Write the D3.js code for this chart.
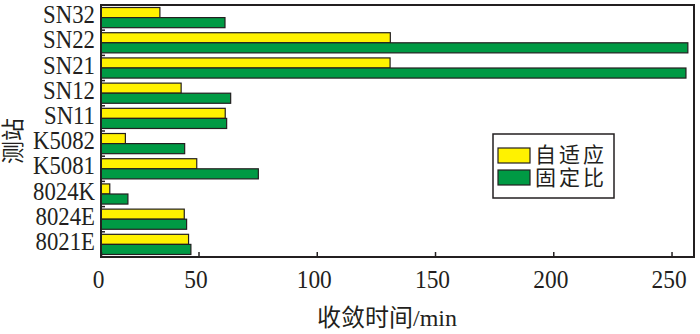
<!DOCTYPE html>
<html>
<head>
<meta charset="utf-8">
<script src="https://cdn.jsdelivr.net/npm/d3@7"></script>
<style>
  html, body { margin: 0; padding: 0; background: #fff; }
  svg { display: block; }
  text { font-family: 'Liberation Serif', 'Noto Sans CJK SC', serif; fill: #231f20; }
</style>
</head>
<body>
<div id="chart"></div>
<script>
// ---- data ----
const categories = ["SN32", "SN22", "SN21", "SN12", "SN11", "K5082", "K5081", "8024K", "8024E", "8021E"];
const seriesNames = ["自适应", "固定比"];
const adaptive = [30.2, 131.1, 131.0, 41.1, 61.3, 12.5, 49.1, 4.5, 42.7, 44.9];
const fixedRatio = [61.2, 256.9, 256.1, 63.6, 61.9, 42.9, 75.3, 13.8, 43.9, 46.1];
const xTicks = [0, 50, 100, 150, 200, 250];
const xTitle = "收敛时间/min";
const yTitle = "测站";

// ---- layout ----
const W = 700, H = 334;
const L = 101, R = 694, T = 5, B = 257;
const colors = ["#fff200", "#009a44"];

const svg = d3.select("#chart").append("svg").attr("width", W).attr("height", H);

// piecewise-linear x scale matching the source axis
const x = d3.scaleLinear().domain([0, 50, 259.5]).range([L, 198.5, R]);
const y = d3.scaleBand().domain(categories).range([T, B]).paddingInner(0.2).paddingOuter(0.1);
const sub = d3.scaleBand().domain(seriesNames).range([0, y.bandwidth()]).padding(0);

const series = [adaptive, fixedRatio];

// bars
const g = svg.append("g");
seriesNames.forEach((name, si) => {
  g.selectAll(null)
    .data(categories.map((c, i) => ({ c, v: series[si][i] })))
    .enter().append("rect")
    .attr("x", x(0))
    .attr("y", d => y(d.c) + sub(name))
    .attr("width", d => x(d.v) - x(0))
    .attr("height", sub.bandwidth())
    .attr("fill", colors[si])
    .attr("stroke", "#231f20")
    .attr("stroke-width", 1.2);
});

// x axis (ticks inward)
const xAxis = d3.axisBottom(x).tickValues(xTicks).tickSizeInner(-5).tickSizeOuter(0).tickPadding(12.5);
const xg = svg.append("g").attr("transform", `translate(0,${B})`).call(xAxis);
xg.select(".domain").remove();
xg.selectAll(".tick line").attr("stroke", "#231f20").attr("stroke-width", 1.5);
xg.selectAll(".tick text")
  .style("font-family", "'Liberation Serif', serif")
  .style("font-size", "26px")
  .attr("transform", "translate(-3,0) scale(0.9,1)");

// y axis: category labels and boundary ticks
const step = y.step();
svg.append("g").selectAll("line")
  .data(categories.slice(1))
  .enter().append("line")
  .attr("x1", L).attr("x2", L + 4)
  .attr("y1", d => y(d) - step * 0.1)
  .attr("y2", d => y(d) - step * 0.1)
  .attr("stroke", "#231f20").attr("stroke-width", 1.5);

svg.append("g").selectAll("text")
  .data(categories)
  .enter().append("text")
  .attr("transform", d => `translate(95,${y(d) + y.bandwidth() / 2 + 5.5}) scale(0.93,1)`)
  .attr("text-anchor", "end")
  .style("font-size", "24.5px")
  .text(d => d);

// frame
svg.append("rect")
  .attr("x", L).attr("y", T).attr("width", R - L).attr("height", B - T)
  .attr("fill", "none").attr("stroke", "#231f20").attr("stroke-width", 2);

// axis titles
svg.append("text")
  .attr("x", 387).attr("y", 326)
  .attr("text-anchor", "middle")
  .style("font-size", "24px")
  .text(xTitle);

svg.append("text")
  .attr("transform", "translate(21,141) rotate(-90)")
  .attr("text-anchor", "middle")
  .style("font-size", "23px")
  .text(yTitle);

// legend
const lg = svg.append("g");
lg.append("rect")
  .attr("x", 493).attr("y", 134).attr("width", 121).attr("height", 64)
  .attr("fill", "#fff").attr("stroke", "#231f20").attr("stroke-width", 1.5);
seriesNames.forEach((name, i) => {
  lg.append("rect")
    .attr("x", 498).attr("y", 148 + i * 22).attr("width", 32).attr("height", 15)
    .attr("fill", colors[i]).attr("stroke", "#231f20").attr("stroke-width", 1.2);
  lg.append("text")
    .attr("x", 535).attr("y", 162 + i * 23)
    .style("font-size", "21px")
    .style("letter-spacing", "3px")
    .text(name);
});
</script>
</body>
</html>
